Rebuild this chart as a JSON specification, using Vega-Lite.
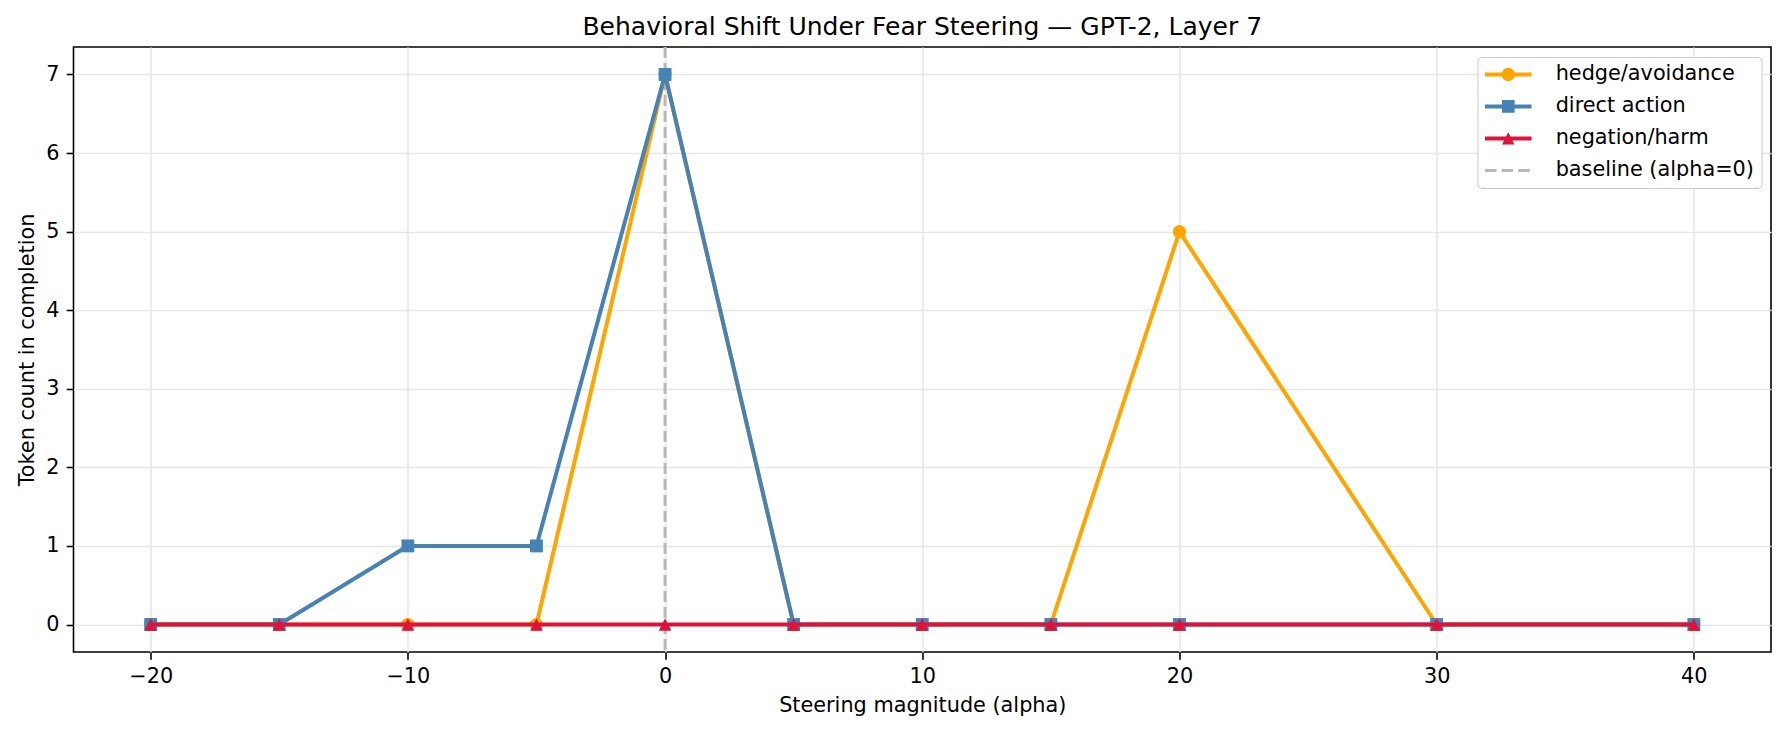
{
  "$schema": "https://vega.github.io/schema/vega-lite/v6.json",
  "width": 1697.5,
  "height": 605,
  "autosize": {"type": "none"},
  "padding": {"left": 73.5, "top": 47, "right": 14, "bottom": 81},
  "background": "white",
  "title": {
    "text": "Behavioral Shift Under Fear Steering — GPT-2, Layer 7",
    "font": "DejaVu Sans",
    "fontSize": 25,
    "fontWeight": "normal",
    "color": "black",
    "baseline": "alphabetic",
    "offset": 12.5,
    "dy": 26.5,
    "anchor": "middle"
  },
  "config": {
    "font": "DejaVu Sans",
    "view": {"stroke": "black", "strokeWidth": 1.6},
    "axis": {
      "domain": false,
      "grid": true,
      "gridColor": "#e7e7e7",
      "gridWidth": 1.6,
      "tickColor": "black",
      "tickSize": 7.3,
      "tickWidth": 1.6,
      "labelColor": "black",
      "labelFont": "DejaVu Sans",
      "labelFontSize": 20.8,
      "labelPadding": 7.3,
      "titleColor": "black",
      "titleFont": "DejaVu Sans",
      "titleFontSize": 20.8,
      "titleFontWeight": "normal",
      "labelFlush": false,
      "labelOverlap": false
    }
  },
  "data": {
    "values": [
      {"alpha": -20, "series": "hedge/avoidance", "count": 0},
      {"alpha": -15, "series": "hedge/avoidance", "count": 0},
      {"alpha": -10, "series": "hedge/avoidance", "count": 0},
      {"alpha": -5, "series": "hedge/avoidance", "count": 0},
      {"alpha": 0, "series": "hedge/avoidance", "count": 7},
      {"alpha": 5, "series": "hedge/avoidance", "count": 0},
      {"alpha": 10, "series": "hedge/avoidance", "count": 0},
      {"alpha": 15, "series": "hedge/avoidance", "count": 0},
      {"alpha": 20, "series": "hedge/avoidance", "count": 5},
      {"alpha": 30, "series": "hedge/avoidance", "count": 0},
      {"alpha": 40, "series": "hedge/avoidance", "count": 0},
      {"alpha": -20, "series": "direct action", "count": 0},
      {"alpha": -15, "series": "direct action", "count": 0},
      {"alpha": -10, "series": "direct action", "count": 1},
      {"alpha": -5, "series": "direct action", "count": 1},
      {"alpha": 0, "series": "direct action", "count": 7},
      {"alpha": 5, "series": "direct action", "count": 0},
      {"alpha": 10, "series": "direct action", "count": 0},
      {"alpha": 15, "series": "direct action", "count": 0},
      {"alpha": 20, "series": "direct action", "count": 0},
      {"alpha": 30, "series": "direct action", "count": 0},
      {"alpha": 40, "series": "direct action", "count": 0},
      {"alpha": -20, "series": "negation/harm", "count": 0},
      {"alpha": -15, "series": "negation/harm", "count": 0},
      {"alpha": -10, "series": "negation/harm", "count": 0},
      {"alpha": -5, "series": "negation/harm", "count": 0},
      {"alpha": 0, "series": "negation/harm", "count": 0},
      {"alpha": 5, "series": "negation/harm", "count": 0},
      {"alpha": 10, "series": "negation/harm", "count": 0},
      {"alpha": 15, "series": "negation/harm", "count": 0},
      {"alpha": 20, "series": "negation/harm", "count": 0},
      {"alpha": 30, "series": "negation/harm", "count": 0},
      {"alpha": 40, "series": "negation/harm", "count": 0}
    ]
  },
  "encoding": {
    "x": {
      "field": "alpha",
      "type": "quantitative",
      "title": "Steering magnitude (alpha)",
      "scale": {"domain": [-23, 43], "nice": false, "zero": false},
      "axis": {"values": [-20, -10, 0, 10, 20, 30, 40], "format": "d", "titlePadding": 9}
    },
    "color": {
      "field": "series",
      "type": "nominal",
      "scale": {
        "domain": ["hedge/avoidance", "direct action", "negation/harm", "baseline (alpha=0)"],
        "range": ["#FFA500", "#4682B4", "#DC143C", "#b8b8b8"]
      },
      "legend": {
        "title": null,
        "orient": "top-right",
        "offset": 10,
        "padding": 7,
        "rowPadding": 10,
        "labelFont": "DejaVu Sans",
        "labelFontSize": 20.8,
        "labelColor": "black",
        "labelLimit": 400,
        "symbolSize": 400,
        "symbolStrokeWidth": 0,
        "symbolOffset": 13.35,
        "labelOffset": 37,
        "strokeColor": "#cccccc",
        "fillColor": "white",
        "cornerRadius": 4,
        "encode": {
          "symbols": {
            "update": {
              "shape": {"signal": "datum.value === 'hedge/avoidance' ? 'M-2.33,-0.2H2.33V0.2H-2.33Z M-0.66,0A0.66,0.66 0 1,1 0.66,0A0.66,0.66 0 1,1 -0.66,0Z' : datum.value === 'direct action' ? 'M-2.33,-0.2H2.33V0.2H-2.33Z M-0.63,-0.63H0.63V0.63H-0.63Z' : datum.value === 'negation/harm' ? 'M-2.33,-0.2H2.33V0.2H-2.33Z M0,-0.62L0.62,0.62H-0.62Z' : 'M-2.33,-0.15H-1.17V0.15H-2.33Z M-0.67,-0.15H0.49V0.15H-0.67Z M0.99,-0.15H2.15V0.15H0.99Z'"},
              "fill": {"signal": "scale('color', datum.value)"},
              "stroke": {"value": "transparent"},
              "opacity": {"value": 1}
            }
          }
        }
      }
    }
  },
  "layer": [
    {
      "data": {"values": [{"alpha": 0, "series": "baseline (alpha=0)"}]},
      "mark": {"type": "rule", "strokeWidth": 3, "strokeDash": [11, 5]},
      "encoding": {}
    },
    {
      "transform": [{"filter": "datum.series === 'hedge/avoidance'"}],
      "mark": {"type": "line", "strokeWidth": 4, "strokeJoin": "round", "strokeCap": "square"},
      "encoding": {
        "y": {"field": "count", "type": "quantitative", "title": "Token count in completion", "scale": {"domain": [-0.35, 7.35], "nice": false, "zero": false}, "axis": {"values": [0, 1, 2, 3, 4, 5, 6, 7], "format": "d", "titlePadding": 8}}
      }
    },
    {
      "transform": [{"filter": "datum.series === 'hedge/avoidance'"}],
      "mark": {"type": "point", "shape": "circle", "filled": true, "opacity": 1, "size": 175},
      "encoding": {
        "y": {"field": "count", "type": "quantitative"}
      }
    },
    {
      "transform": [{"filter": "datum.series === 'direct action'"}],
      "mark": {"type": "line", "strokeWidth": 4, "strokeJoin": "round", "strokeCap": "square"},
      "encoding": {
        "y": {"field": "count", "type": "quantitative"}
      }
    },
    {
      "transform": [{"filter": "datum.series === 'direct action'"}],
      "mark": {"type": "point", "shape": "square", "filled": true, "opacity": 1, "size": 165},
      "encoding": {
        "y": {"field": "count", "type": "quantitative"}
      }
    },
    {
      "transform": [{"filter": "datum.series === 'negation/harm'"}],
      "mark": {"type": "line", "strokeWidth": 4, "strokeJoin": "round", "strokeCap": "square"},
      "encoding": {
        "y": {"field": "count", "type": "quantitative"}
      }
    },
    {
      "transform": [{"filter": "datum.series === 'negation/harm'"}],
      "mark": {"type": "point", "shape": "M0,-1L1,1L-1,1Z", "filled": true, "opacity": 1, "size": 160},
      "encoding": {
        "y": {"field": "count", "type": "quantitative"}
      }
    }
  ]
}
